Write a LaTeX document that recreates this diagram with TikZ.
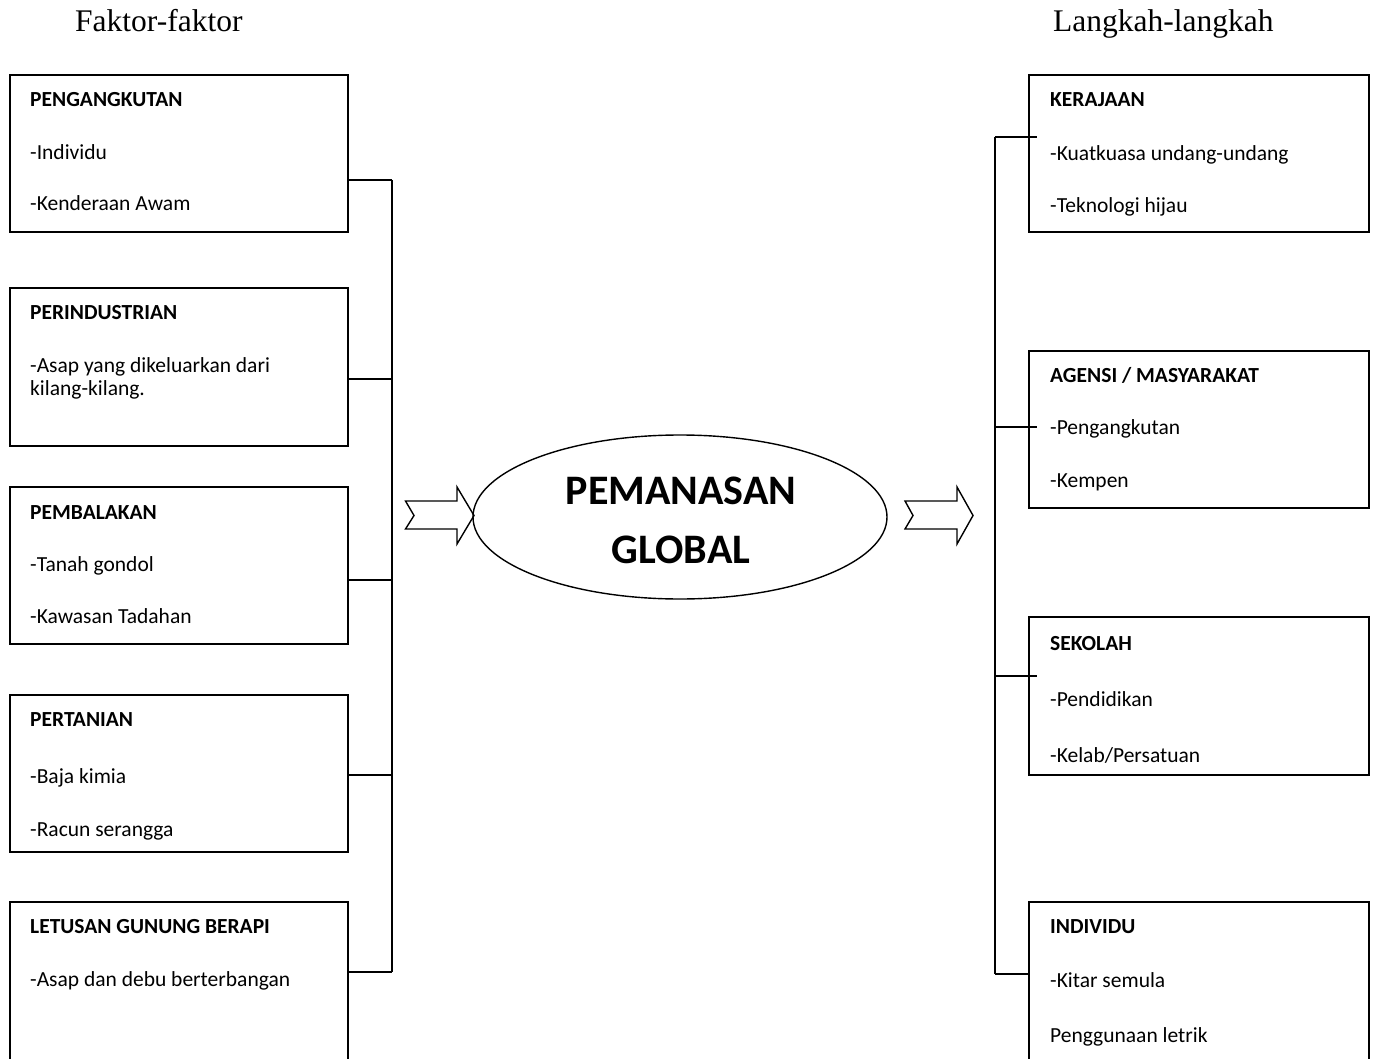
\documentclass[tikz,border=0pt]{standalone}
\usepackage{fontspec}
\setmainfont{Carlito}
\newfontfamily\tnr{Liberation Serif}
\usetikzlibrary{shapes.geometric}
\tikzset{
  box/.style={draw, line width=1.6pt, rectangle, inner sep=0pt},
  txt/.style={anchor=base west, inner sep=0pt, font=\fontsize{21.5}{25}\selectfont},
  head/.style={txt, font=\fontsize{21.5}{25}\selectfont\bfseries},
  conn/.style={line width=1.5pt},
  hdr/.style={anchor=base west, inner sep=0pt, font=\tnr\fontsize{31.5}{36}\selectfont},
  big/.style={anchor=base, inner sep=0pt, font=\fontsize{42}{50}\selectfont\bfseries},
  bigarrow/.style={draw, line width=1.4pt, line join=miter}
}
\begin{document}
\begin{tikzpicture}[x=1pt,y=-1pt]
\useasboundingbox (0,0) rectangle (1375,1059);
\clip (0,0) rectangle (1375,1059);
\fill[white] (0,0) rectangle (1375,1059);

% headers
\node[hdr] (hL) at (75,32) {Faktor-faktor};
\node[hdr] (hR) at (1053,32) {Langkah-langkah};

% left boxes
\node[box, minimum width=338pt, minimum height=157pt] (L1) at (179,153.5) {};
\node[box, minimum width=338pt, minimum height=158pt] (L2) at (179,367) {};
\node[box, minimum width=338pt, minimum height=157pt] (L3) at (179,565.5) {};
\node[box, minimum width=338pt, minimum height=157pt] (L4) at (179,773.5) {};
\node[box, minimum width=338pt, minimum height=166pt] (L5) at (179,985) {};

\node[head] (L1h) at (30,107) {PENGANGKUTAN};
\node[txt] (L1a) at (30,160) {-Individu};
\node[txt] (L1b) at (30,211) {-Kenderaan Awam};

\node[head] (L2h) at (30,319) {PERINDUSTRIAN};
\node[txt] (L2a) at (30,372) {-Asap yang dikeluarkan dari};
\node[txt] (L2b) at (30,395) {kilang-kilang.};

\node[head] (L3h) at (30,519) {PEMBALAKAN};
\node[txt] (L3a) at (30,571) {-Tanah gondol};
\node[txt] (L3b) at (30,623) {-Kawasan Tadahan};

\node[head] (L4h) at (30,726) {PERTANIAN};
\node[txt] (L4a) at (30,783) {-Baja kimia};
\node[txt] (L4b) at (30,836) {-Racun serangga};

\node[head] (L5h) at (30,933) {LETUSAN GUNUNG BERAPI};
\node[txt] (L5a) at (30,986) {-Asap dan debu berterbangan};

% right boxes
\node[box, minimum width=340pt, minimum height=157pt] (R1) at (1199,153.5) {};
\node[box, minimum width=340pt, minimum height=157pt] (R2) at (1199,429.5) {};
\node[box, minimum width=340pt, minimum height=158pt] (R3) at (1199,696) {};
\node[box, minimum width=340pt, minimum height=166pt] (R4) at (1199,985) {};

\node[head] (R1h) at (1050,107) {KERAJAAN};
\node[txt] (R1a) at (1050,161) {-Kuatkuasa undang-undang};
\node[txt] (R1b) at (1050,213) {-Teknologi hijau};

\node[head] (R2h) at (1050,382) {AGENSI / MASYARAKAT};
\node[txt] (R2a) at (1050,434) {-Pengangkutan};
\node[txt] (R2b) at (1050,487) {-Kempen};

\node[head] (R3h) at (1050,650) {SEKOLAH};
\node[txt] (R3a) at (1050,706) {-Pendidikan};
\node[txt] (R3b) at (1050,762) {-Kelab/Persatuan};

\node[head] (R4h) at (1050,933) {INDIVIDU};
\node[txt] (R4a) at (1050,987) {-Kitar semula};
\node[txt] (R4b) at (1050,1042) {Penggunaan letrik};

% ellipse
\node[draw, ellipse, line width=1.4pt, minimum width=414pt, minimum height=164pt, inner sep=0pt] (E) at (680,517) {};
\node[big] (E1) at (681,504) {PEMANASAN};
\node[big] (E2) at (681,563) {GLOBAL};

% left bus
\coordinate (a1) at (392,180);
\coordinate (a2) at (392,379);
\coordinate (a3) at (392,580);
\coordinate (a4) at (392,775);
\coordinate (a5) at (392,972);
\draw[conn] (a1) -- (a5);
\draw[conn] (L1.east |- a1) -- (a1);
\draw[conn] (L2.east |- a2) -- (a2);
\draw[conn] (L3.east |- a3) -- (a3);
\draw[conn] (L4.east |- a4) -- (a4);
\draw[conn] (L5.east |- a5) -- (a5);

% right bus
\coordinate (b1) at (995,137);
\coordinate (b2) at (995,427);
\coordinate (b3) at (995,676);
\coordinate (b4) at (995,974);
\draw[conn] (b1) -- (b4);
\draw[conn] (b1) -- ([xshift=9pt]R1.west |- b1);
\draw[conn] (b2) -- ([xshift=9pt]R2.west |- b2);
\draw[conn] (b3) -- ([xshift=9pt]R3.west |- b3);
\draw[conn] (b4) -- (R4.west |- b4);

% block arrows
\draw[bigarrow] (405.5,501) -- (457,501) -- (457,487) -- (474,515.5) -- (457,544) -- (457,529) -- (405.5,529) -- (414,515.5) -- cycle;
\draw[bigarrow] (905,501) -- (957,501) -- (957,487) -- (973,515.5) -- (957,544) -- (957,529) -- (905,529) -- (913,515.5) -- cycle;
\end{tikzpicture}
\end{document}
